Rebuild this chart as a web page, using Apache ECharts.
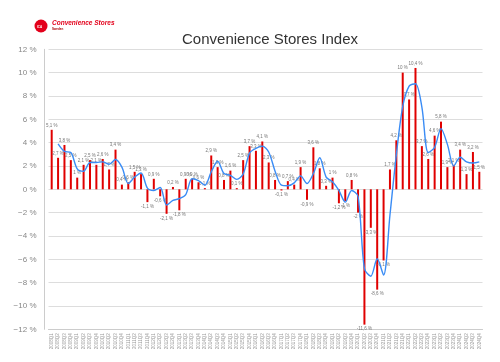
<!DOCTYPE html>
<html>
<head>
<meta charset="utf-8">
<script src="https://cdn.jsdelivr.net/npm/echarts@6/dist/echarts.min.js"></script>
<style>
html,body{margin:0;padding:0;background:#fff;}
#chart{width:500px;height:362px;}
</style>
</head>
<body>
<div id="chart"></div>
<script>
// Quarter categories 2008Q1 .. 2024Q4
const years = [2008,2009,2010,2011,2012,2013,2014,2015,2016,2017,2018,2019,2020,2021,2022,2023,2024];
const quarters = ['Q1','Q2','Q3','Q4'];
const categories = [];
years.forEach(y => quarters.forEach(q => categories.push(y + q)));

// Quarterly change (%), bars
const barValues = [
  5.1, 2.7, 3.8, 2.5, 1.0, 2.1, 2.5, 2.1, 2.6, 1.7,
  3.4, 0.4, 0.6, 1.5, 1.3, -1.1, 0.9, -0.6, -2.1, 0.2,
  -1.8, 0.9, 0.9, 0.6, 0.1, 2.9, 1.9, 0.8, 1.6, 0.1,
  2.5, 3.7, 3.3, 4.1, 2.3, 0.8, -0.1, 0.7, 0.4, 1.9,
  -0.9, 3.6, 1.8, 0.3, 1.0, -1.2, -1.0, 0.8, -2.0, -11.6,
  -3.3, -8.6, -6.1, 1.7, 4.2, 10.0, 7.7, 10.4, 3.7, 2.6,
  4.6, 5.8, 1.9, 2.1, 3.4, 1.3, 3.2, 1.5
];

// Trend line (%)
const lineValues = [
  null, 3.9, 3.25, 3.15, 1.75, 1.55, 2.3, 2.3, 2.35, 2.15,
  2.55, 1.9, 0.5, 1.05, 1.4, 0.1, -0.1, 0.15, -1.35, -0.95,
  -0.8, -0.45, 0.9, 0.75, 0.35, 1.5, 2.4, 1.35, 1.2, 0.85,
  1.3, 3.1, 3.5, 3.7, 3.2, 1.55, 0.35, 0.3, 0.55, 1.15,
  0.5, 1.35, 2.7, 1.05, 0.65, -0.1, -1.1, -0.1, -0.6, -6.8,
  -7.45, -5.95, -7.35, -2.2, 2.95, 7.1, 8.85, 9.05, 7.05, 3.15,
  3.6, 5.2, 3.85, 2.0, 2.75, 2.35, 2.25, 2.35
];

const yTicks = { min: -12, max: 12, step: 2 };

function fmtPct(v) {
  return String(v).replace('.', ',') + ' %';
}

const chart = echarts.init(document.getElementById('chart'), null, {renderer: 'canvas'});
const font = '"Liberation Sans", Helvetica, Arial, sans-serif';

chart.setOption({
  animation: false,
  textStyle: { fontFamily: font },
  title: {
    text: 'Convenience Stores Index',
    left: 265, top: 27, textAlign: 'center',
    textStyle: { fontSize: 15, fontWeight: 'normal', color: '#333', fontFamily: font }
  },
  graphic: [
    { type: 'circle', shape: { cx: 41, cy: 26, r: 6.5 }, style: { fill: '#e3001b' } },
    { type: 'text', left: 37, top: 26, style: { text: 'ICA', fill: '#fff', font: 'bold 3px ' + font } },
    { type: 'text', left: 52, top: 20, style: { text: 'Convenience Stores', fill: '#e3001b', font: 'italic bold 6.5px ' + font } },
    { type: 'text', left: 52, top: 28, style: { text: 'Sweden', fill: '#a00', font: 'bold 3px ' + font } }
  ],
  grid: { left: 48.5, right: 17.5, top: 49.3, bottom: 32.7, containLabel: false },
  xAxis: {
    type: 'category',
    data: categories,
    boundaryGap: true,
    axisLine: { show: true, onZero: false, lineStyle: { color: '#ccc' } },
    axisTick: { show: false },
    axisLabel: { interval: 0, rotate: 90, fontSize: 4.5, color: '#999', margin: 4 }
  },
  yAxis: {
    type: 'value',
    min: yTicks.min, max: yTicks.max, interval: yTicks.step,
    offset: 4,
    axisLine: { show: true, lineStyle: { color: '#ccc' } },
    axisTick: { show: false },
    splitLine: { lineStyle: { color: '#ddd', width: 1 } },
    axisLabel: {
      fontSize: 8, color: '#888', margin: 8,
      formatter: v => (v < 0 ? '\u2212' + Math.abs(v) : v) + ' %'
    }
  },
  series: [
    {
      type: 'bar',
      barWidth: 2,
      itemStyle: { color: '#e00000' },
      data: barValues.map(v => ({
        value: v,
        label: {
          show: true,
          position: v < 0 ? 'bottom' : 'top',
          distance: 2,
          fontSize: 4.5,
          color: '#777',
          formatter: p => fmtPct(p.value)
        }
      })),
      z: 2
    },
    {
      type: 'line',
      data: lineValues,
      showSymbol: false,
      smooth: 0.3,
      connectNulls: false,
      lineStyle: { color: '#3a8cf5', width: 1.4 },
      itemStyle: { color: '#3a8cf5' },
      z: 3
    }
  ]
});
</script>
</body>
</html>
